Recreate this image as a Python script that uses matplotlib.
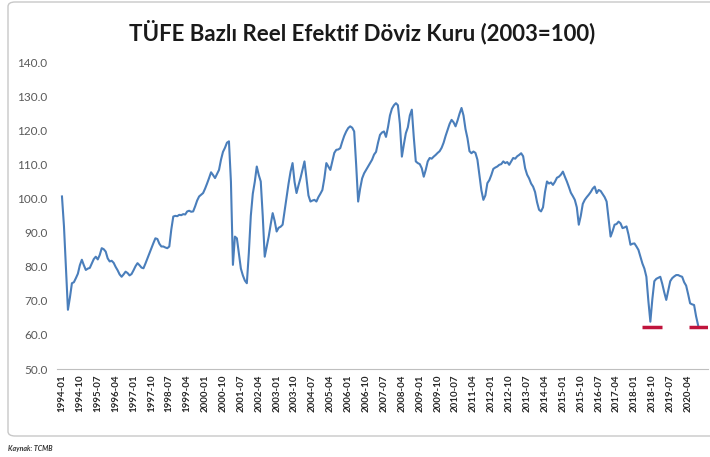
import matplotlib.pyplot as plt
import matplotlib.patches as patches
import pandas as pd

# monthly CPI based real effective exchange rate, 1994-01 .. 2020-09
start_month = "1994-01"
reer = [
    100.7, 92.0, 80.0, 67.4, 71.0, 75.2, 75.5, 76.7, 78.0, 80.5, 82.1, 80.5,
    79.1, 79.5, 79.7, 81.0, 82.3, 83.0, 82.2, 83.5, 85.5, 85.2, 84.5, 82.5,
    81.6, 81.8, 81.2, 80.0, 79.0, 77.8, 77.1, 77.8, 78.6, 78.2, 77.5, 77.9,
    79.0, 80.2, 81.1, 80.5, 79.8, 79.6, 81.0, 82.5, 84.0, 85.5, 87.0, 88.4,
    88.2, 86.8, 86.0, 86.0, 85.7, 85.5, 86.0, 91.0, 94.8, 95.0, 94.9, 95.3,
    95.2, 95.5, 95.4, 96.3, 96.5, 96.2, 96.3, 97.8, 99.5, 100.7, 101.2, 101.7,
    103.0, 104.5, 106.1, 107.8, 107.0, 106.1, 107.3, 108.5, 111.5, 113.8, 115.0, 116.5,
    116.9, 105.0, 80.6, 88.9, 88.4, 84.0, 79.5, 77.5, 76.0, 75.2, 84.0, 95.0,
    101.5, 105.0, 109.5, 107.0, 105.1, 95.0, 83.0, 86.0, 88.9, 92.5, 95.8, 93.5,
    90.4, 91.5, 91.8, 92.4, 96.5, 100.5, 104.5, 108.0, 110.5, 105.0, 101.7, 104.0,
    106.1, 108.5, 111.0, 106.0, 101.0, 99.2, 99.5, 99.7, 99.2, 100.5, 101.5, 102.6,
    106.0, 110.5, 109.5, 108.5, 111.0, 113.5, 114.4, 114.5, 114.9, 116.8, 118.5, 119.8,
    120.8, 121.3, 120.9, 119.8, 110.0, 99.2, 103.0, 106.0, 107.5, 108.5, 109.5, 110.5,
    111.5, 113.0, 113.8, 116.5, 118.8, 119.5, 119.8, 118.2, 121.0, 124.5, 126.5, 127.5,
    128.1, 127.5, 122.0, 112.4, 116.0, 119.3, 121.0, 124.5, 126.2, 118.0, 111.0, 110.5,
    110.2, 109.0, 106.5, 108.5, 111.0, 112.0, 111.8, 112.4, 112.9, 113.5, 114.0, 115.0,
    116.5, 118.5, 120.3, 122.0, 123.2, 122.5, 121.3, 123.0, 125.0, 126.7, 124.5, 120.5,
    117.8, 114.0, 113.4, 113.9, 113.5, 111.5, 107.0, 102.5, 99.7, 101.0, 104.6, 105.5,
    107.0, 108.8, 109.2, 109.5, 110.0, 110.2, 111.0, 110.5, 110.8, 110.0, 111.0, 112.0,
    111.8, 112.5, 112.9, 113.4, 112.5, 109.0, 107.1, 106.0, 104.5, 103.6, 102.0, 99.0,
    96.8, 96.3, 97.5, 102.0, 105.1, 104.5, 104.8, 104.1, 105.0, 106.2, 106.5, 107.1,
    108.0, 106.5, 105.1, 103.5, 101.8, 100.8, 99.7, 97.5, 92.4, 95.0, 98.5, 99.7,
    100.5, 101.2, 102.0, 103.0, 103.6, 101.7, 102.6, 102.3, 101.4, 100.5, 99.2, 94.0,
    88.9, 90.5, 92.4, 92.6, 93.3, 92.8, 91.4, 91.6, 91.9, 89.5, 86.5, 86.8,
    86.9, 86.0, 85.0, 83.0, 81.0, 79.5, 77.1, 70.0, 63.9, 70.5, 75.8, 76.5,
    76.8, 77.1, 75.0, 72.5, 70.3, 73.0, 75.8, 76.7, 77.2, 77.6, 77.6, 77.3,
    77.1, 75.5, 74.5, 72.0, 69.3, 69.0, 68.8, 65.5, 62.9,
]
months = pd.period_range(start_month, periods=len(reer), freq="M")

# red markers under the two lows (start month index, end month index, level)
low_marks = [(292, 302, 62.4), (315.5, 325, 62.4)]

title = "TÜFE Bazlı Reel Efektif Döviz Kuru (2003=100)"
source = "Kaynak: TCMB"

plt.rcParams['font.family'] = ['Lato', 'DejaVu Sans']

fig = plt.figure(figsize=(7.10, 4.57), dpi=100)
ax = fig.add_axes([57/710, (457-369)/457, (708-57)/710, (369-62.7)/457])

x = list(range(len(reer)))
ax.plot(x, reer, color='#4A7EBB', linewidth=1.5)
for a, b, lvl in low_marks:
    ax.plot([a, b], [lvl, lvl], color='#C0143C', linewidth=2.5, solid_capstyle='butt')

ax.set_ylim(50, 140)
ax.set_xlim(-2.5, 325)
ax.set_yticks(range(50, 141, 10))
ax.set_yticklabels([f"{v:.1f}" for v in range(50, 141, 10)], fontsize=8.5, color='#595959')

tick_idx = list(range(0, len(reer), 9))
ax.set_xticks(tick_idx)
ax.set_xticklabels([months[i].strftime("%Y-%m") for i in tick_idx],
                   rotation=90, fontsize=7, fontweight='bold', color='#262626')
ax.tick_params(axis='both', length=0, pad=4)
ax.tick_params(axis='y', pad=7)

for s in ['top', 'right', 'left']:
    ax.spines[s].set_visible(False)
ax.spines['bottom'].set_color('#BFBFBF')
ax.spines['bottom'].set_linewidth(0.8)

fig.text(362/710, 1 - 32/457, title, ha='center', va='center',
         fontsize=16, fontweight='bold', color='#1a1a1a')
fig.text(8/710, 1 - 448/457, source, ha='left', va='center',
         fontsize=5, fontstyle='italic', fontweight='bold', color='#333333')

border = patches.FancyBboxPatch((8/710, 1 - 436/457), 710/710, 434/457,
                                boxstyle='round,pad=0,rounding_size=0.01',
                                transform=fig.transFigure, fill=False,
                                edgecolor='#C8C8C8', linewidth=1.0)
fig.patches.append(border)

fig.savefig('out.png', dpi=100, facecolor='white')
